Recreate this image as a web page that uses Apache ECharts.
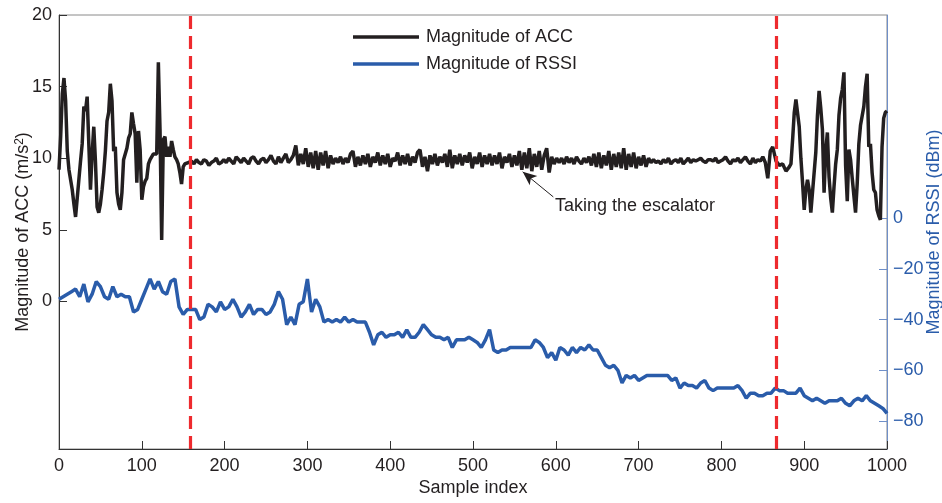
<!DOCTYPE html>
<html><head><meta charset="utf-8">
<script src="https://cdn.jsdelivr.net/npm/echarts@6/dist/echarts.min.js"></script>
<style>html,body{margin:0;padding:0;background:#fff}#c{width:942px;height:503px}</style>
</head><body><div id="c"></div>
<script>
// ---- tick labels ----
const xTicks = [0,100,200,300,400,500,600,700,800,900,1000];
const accTicks = [0,5,10,15,20];
const rssiTicks = [-80,-60,-40,-20,0];
const phaseLines = [159, 866];

// ---- ACC magnitude (m/s^2) ----
const accHeadStart = 0, accHeadStep = 2;
const accHead = [
 9.2,11.5,14.5,15.6,14.0,10.5,9.2,8.5,7.8,6.8,
 5.9,6.0,8.5,9.8,11.0,13.6,13.3,14.3,11.0,7.8,
 10.3,12.2,9.8,6.6,6.2,6.8,7.8,9.0,10.5,12.6,
 13.2,15.2,14.0,10.5,10.8,7.6,6.8,6.4,7.6,9.9,
 9.9,10.7,11.4,11.7,13.2,12.4,11.7,8.3,11.9,10.6,
 7.1,8.0,8.4,8.6,9.6,9.9,9.9,10.3,10.2,10.3,
 16.7,12.0,4.3,11.3,11.5,10.1,10.8,10.1,11.2,10.6,
 10.1,9.9,9.6,9.0,8.2,9.4,9.6,9.6,9.7,9.6,
 9.8];
const accMidStart = 163, accMidStep = 3;
const accMid = [
 9.6,9.9,9.7,9.6,9.9,9.8,9.5,9.7,9.8,10.0,9.6,9.7,9.9,
 9.7,10.0,9.8,9.6,10.1,9.9,9.7,10.0,9.8,9.6,10.0,10.1,9.8,9.6,9.9,10.0,9.7,9.9,10.2,9.8,9.6,10.1,9.7,10.0,10.3,9.7,9.9,
 10.2,10.9,9.5,10.3,9.6,10.7,9.4,10.4,9.3,10.5,9.2,10.4,9.5,10.5,9.3,10.2,9.6,10.0,9.7,10.1,9.6,10.0,9.7,10.3,10.5,9.4,10.1,
 9.5,10.2,9.6,10.3,9.4,10.1,9.7,10.4,9.5,10.2,9.6,10.3,9.4,10.0,9.8,10.4,9.5,10.2,9.6,10.3,9.5,10.1,9.7,10.4,10.6,9.4,10.1,
 9.1,10.2,9.6,10.3,9.5,10.1,9.7,10.3,9.4,10.6,9.3,10.2,9.6,10.3,9.5,10.2,9.7,10.4,9.3,10.1,9.6,10.4,9.4,10.2,9.6,10.3,9.5,
 10.2,9.6,10.4,9.3,10.1,9.7,10.3,9.4,10.2,9.5,10.5,9.2,10.4,9.3,10.7,9.1,10.3,9.4,10.5,9.2,10.2,10.7,9.0,10.1,9.6,10.0,9.7,
 10.0,9.6,10.1,9.7,10.0,9.6,10.1,9.8,9.6,10.0,9.7,10.1,9.5,10.3,9.4,10.4,9.3,10.2,9.5,10.5,9.2,10.3,9.4,10.4,9.3,10.7,9.2,
 10.3,9.4,10.4,9.3,10.1,9.5,10.2,9.4,10.0,9.7,9.9,9.7,9.8,9.6,9.9,9.7,10.0,9.6,9.8,9.9,9.7,10.0,9.6,9.8,10.0,9.7,9.9,
 9.8,9.9,10.0,9.8,9.7,9.9,9.9,9.8,10.0,9.7,9.8,9.9,10.1,9.8,9.6,9.9,9.8,10.0,9.7,9.9,10.1,9.8,9.6,10.0,9.7,9.9,9.8,10.1,9.7,8.6,10.5,10.8];
const accTailStart = 866, accTailStep = 2;
const accTail = [
 9.8,9.7,9.5,9.4,9.6,9.5,9.1,9.0,9.4,9.6,
 11.3,13.2,14.1,14.0,12.2,10.0,8.3,6.4,7.8,8.5,
 7.8,6.2,7.6,9.0,10.4,13.0,14.7,13.5,12.0,7.6,
 10.5,11.8,8.7,7.2,6.2,8.0,9.6,10.6,13.0,14.2,
 14.8,16.0,9.5,7.0,10.6,9.9,8.6,7.4,6.2,8.2,
 11.0,12.3,12.4,13.6,15.0,15.9,10.8,11.0,9.0,7.8,
 7.6,6.4,6.0,5.7,10.8,12.8,13.2,13.3];

// ---- RSSI magnitude (dBm) ----
const rssiStart = 0, rssiStep = 5;
const rssi = [
 -32,-31,-30,-29,-28,-31,-26,-33,-30,-25,
 -27,-31,-32,-27,-31,-30,-31,-31,-37,-36,
 -32,-28,-24,-28,-25,-29,-30,-25,-24,-35,
 -38,-36,-36,-36,-40,-39,-34,-35,-37,-33,
 -36,-35,-32,-35,-39,-37,-34,-38,-36,-36,
 -38,-37,-34,-29,-32,-42,-39,-42,-34,-33,
 -24,-37,-32,-35,-41,-40,-41,-40,-41,-39,
 -41,-40,-41,-41,-41,-45,-50,-46,-45,-47,
 -46,-46,-45,-47,-44,-47,-47,-45,-42,-44,
 -46,-47,-47,-48,-47,-51,-48,-48,-48,-47,
 -48,-49,-51,-48,-44,-52,-53,-52,-52,-51,
 -51,-51,-51,-51,-51,-48,-49,-51,-55,-53,
 -56,-51,-52,-54,-51,-53,-51,-52,-50,-52,
 -52,-55,-58,-59,-58,-60,-65,-62,-63,-62,
 -64,-63,-62,-62,-62,-62,-62,-62,-64,-63,
 -67,-65,-66,-66,-67,-65,-64,-67,-68,-67,
 -67,-67,-67,-67,-66,-68,-71,-69,-69,-70,
 -70,-69,-69,-67,-68,-68,-69,-69,-69,-67,
 -70,-71,-72,-71,-72,-73,-72,-72,-72,-71,
 -73,-74,-72,-71,-72,-70,-72,-73,-74,-75,
 -77];

// annotation arrow (data coords): tail -> head
const arrowTail = [597, 7.3];
const arrowHead = [560, 9.05];

function build(start, step, vals){ return vals.map((v,i)=>[start+i*step, v]); }
const accData = build(accHeadStart, accHeadStep, accHead)
  .concat(build(accMidStart, accMidStep, accMid))
  .concat(build(accTailStart, accTailStep, accTail));
const rssiData = build(rssiStart, rssiStep, rssi);

const FONT = 'Liberation Sans, Arial, Helvetica, sans-serif';
const TXT = '#231f20';
const BLUE = '#2a5caa';

const chart = echarts.init(document.getElementById('c'), null, {renderer:'canvas'});
chart.setOption({
  animation:false,
  textStyle:{fontFamily:FONT},
  grid:{left:59,right:55,top:15,bottom:54,show:true,borderColor:'#8a8a8a',borderWidth:1,
    containLabel:false, outerBoundsMode:'none'},
  legend:{
    data:['Magnitude of ACC','Magnitude of RSSI'],
    orient:'vertical', left:353, top:28, padding:0, itemWidth:66, itemHeight:3.5, itemGap:9,
    icon:'rect',
    textStyle:{fontSize:18,color:TXT,fontFamily:FONT,padding:[0,0,0,2]}
  },
  xAxis:{
    type:'value', min:0, max:1000, interval:100,
    axisLine:{onZero:false,lineStyle:{color:'#333',width:1}},
    axisTick:{inside:true,length:8,lineStyle:{color:'#333'}},
    axisLabel:{fontSize:18,color:TXT,margin:8,fontFamily:FONT,formatter:v=>String(v)},
    splitLine:{show:false},
    name:'Sample index', nameLocation:'middle', nameGap:30, nameMoveOverlap:false,
    nameTextStyle:{fontSize:18,color:TXT,fontFamily:FONT}
  },
  yAxis:[{
    type:'value', position:'left', min:-10.3, max:20,
    axisLine:{show:true,onZero:false,lineStyle:{color:'#333'}},
    axisTick:{inside:true,length:8,customValues:accTicks,lineStyle:{color:'#333'}},
    axisLabel:{fontSize:18,color:TXT,margin:7,customValues:accTicks,fontFamily:FONT},
    splitLine:{show:false},
    name:'Magnitude of ACC (m/s{sup|2})', nameLocation:'middle', nameGap:27, nameRotate:90,
    nameMoveOverlap:false,
    nameTextStyle:{fontSize:18,color:TXT,fontFamily:FONT,
      rich:{sup:{fontSize:12,verticalAlign:'top',color:TXT,fontFamily:FONT}}}
  },{
    type:'value', position:'right', min:-91, max:80,
    axisLine:{show:true,onZero:false,lineStyle:{color:'#6f8fc8'}},
    axisTick:{inside:true,length:8,customValues:rssiTicks,lineStyle:{color:'#6f8fc8'}},
    axisLabel:{fontSize:18,color:BLUE,margin:6,customValues:rssiTicks,fontFamily:FONT,
      formatter:v=>String(v).replace('-','\u2212')},
    splitLine:{show:false},
    name:'Magnitude of RSSI (dBm)', nameLocation:'middle', nameGap:38, nameRotate:90,
    nameMoveOverlap:false,
    nameTextStyle:{fontSize:18,color:BLUE,fontFamily:FONT}
  }],
  series:[{
    name:'Magnitude of ACC', type:'line', yAxisIndex:0, data:accData,
    showSymbol:false, symbol:'none', lineStyle:{color:'#231f20',width:3.5}, itemStyle:{color:'#231f20'},
    z:2
  },{
    name:'Magnitude of RSSI', type:'line', yAxisIndex:1, data:rssiData,
    showSymbol:false, symbol:'none', lineStyle:{color:BLUE,width:3.5}, itemStyle:{color:BLUE},
    z:3
  },{
    name:'phase', type:'line', yAxisIndex:0, data:[], z:5, silent:true,
    markLine:{
      silent:true, symbol:'none', animation:false,
      label:{show:false},
      lineStyle:{color:'#ee2a2e',width:3.2,type:[13,7]},
      data:phaseLines.map(x=>({xAxis:x})).concat([[
        {coord:arrowTail, symbol:'none', lineStyle:{color:'#231f20',width:1,type:'solid'}},
        {coord:arrowHead, symbol:'arrow', symbolSize:[9,14]}
      ]])
    }
  }],
  graphic:[{
    type:'text', left:555, top:197,
    style:{text:'Taking the escalator', fontSize:18, fill:TXT, fontFamily:FONT}
  }]
});
</script></body></html>
